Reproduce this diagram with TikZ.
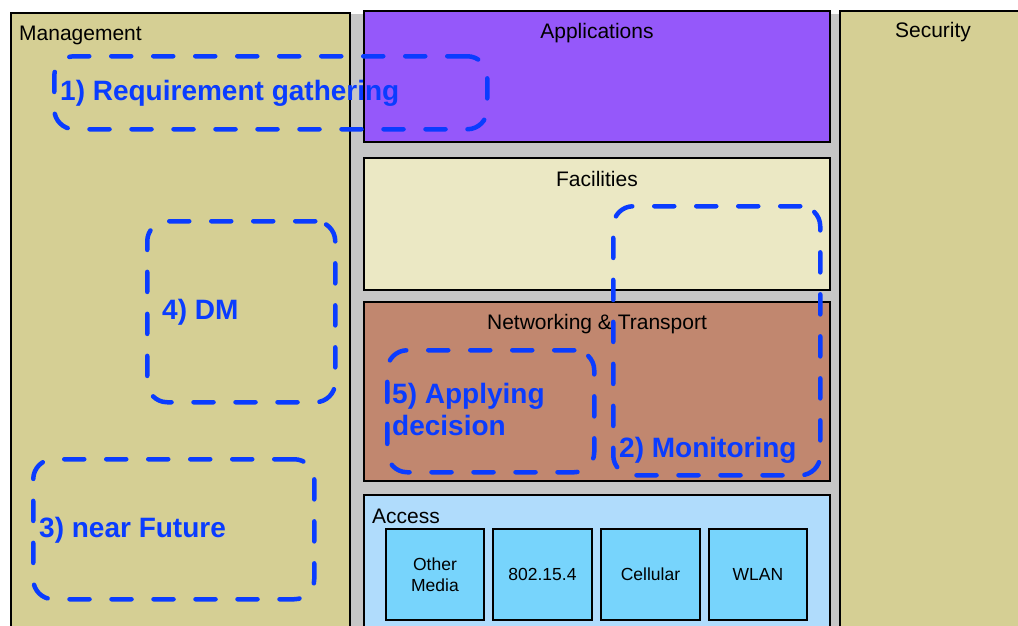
\documentclass[tikz,border=0pt]{standalone}
\usepackage{fontspec}
\setmainfont{Liberation Sans}
\definecolor{mgmt}{HTML}{D5CF94}
\definecolor{appc}{HTML}{9558FA}
\definecolor{facc}{HTML}{EBE8C4}
\definecolor{netc}{HTML}{C1876F}
\definecolor{accc}{HTML}{B0DCFC}
\definecolor{medc}{HTML}{77D4FC}
\definecolor{blu}{HTML}{0A3CFF}
\definecolor{gapc}{HTML}{C6C6C6}
\begin{document}
\begin{tikzpicture}[x=1pt,y=-1pt,
  box/.style={draw=black,line width=1.3pt,rectangle,inner sep=0pt,outer sep=0pt,anchor=north west},
  grp/.style={draw=blu,line width=4.5pt,dash pattern=on 20pt off 22pt,line cap=round,
              rounded corners=20pt,rectangle,inner sep=0pt,anchor=north west},
  title/.style={font=\fontsize{21}{25}\selectfont,text=black,inner sep=0pt},
  media/.style={font=\fontsize{17.5}{21}\selectfont,align=center,inner sep=0pt},
  blab/.style={font=\fontsize{28}{32}\selectfont\bfseries,text=blu,inner sep=0pt,anchor=base west}]
\path[use as bounding box] (0,0) rectangle (1018,625);
\clip (0,0) rectangle (1018,625);
\fill[white] (0,0) rectangle (1018,625);
\fill[gapc] (350,14) rectangle (840,630);
% columns
\node[box,fill=mgmt,minimum width=339pt,minimum height=640pt] (mgmt) at (11,13) {};
\node[box,fill=mgmt,minimum width=200pt,minimum height=640pt] (sec) at (840,11) {};
% layers
\node[box,fill=appc,minimum width=466pt,minimum height=131pt] (app) at (364,11) {};
\node[box,fill=facc,minimum width=466pt,minimum height=132pt] (fac) at (364,158) {};
\node[box,fill=netc,minimum width=466pt,minimum height=179pt] (net) at (364,302) {};
\node[box,fill=accc,minimum width=466pt,minimum height=150pt] (acc) at (364,495) {};
% media
\node[box,fill=medc,minimum width=98pt,minimum height=91pt] (om) at (386,529) {};
\node[box,fill=medc,minimum width=99pt,minimum height=91pt] (zb) at (493,529) {};
\node[box,fill=medc,minimum width=99pt,minimum height=91pt] (cel) at (601,529) {};
\node[box,fill=medc,minimum width=98pt,minimum height=91pt] (wlan) at (709,529) {};
\node[media] at (om.center) {Other\\Media};
\node[media] at (zb.center) {802.15.4};
\node[media] at (cel.center) {Cellular};
\node[media] at (wlan.center) {WLAN};
% titles
\node[title,anchor=base west] (tmgmt) at (19,40) {Management};
\node[title,anchor=base] (tsec) at (933,37) {Security};
\node[title,anchor=base] (tapp) at (597,38) {Applications};
\node[title,anchor=base] (tfac) at (597,186) {Facilities};
\node[title,anchor=base] (tnet) at (597,329) {Networking \& Transport};
\node[title,anchor=base west] (tacc) at (372,523) {Access};
% dashed groups
\node[grp,minimum width=433pt,minimum height=73pt] (g1) at (52,54) {};
\node[grp,minimum width=188pt,minimum height=181pt] (g4) at (145,219) {};
\node[grp,minimum width=281pt,minimum height=140pt] (g3) at (31,457) {};
\node[grp,minimum width=207pt,minimum height=122pt] (g5) at (385,348) {};
\node[grp,minimum width=207pt,minimum height=269pt] (g2) at (611,204) {};
% blue labels
\node[blab] (l1) at (60,100) {1) Requirement gathering};
\node[blab] (l4) at (162,319) {4) DM};
\node[blab] (l3) at (39,537) {3) near Future};
\node[blab] (l5a) at (392,403) {5) Applying};
\node[blab] (l5b) at (392,435) {decision};
\node[blab] (l2) at (619,457) {2) Monitoring};
\end{tikzpicture}
\end{document}
